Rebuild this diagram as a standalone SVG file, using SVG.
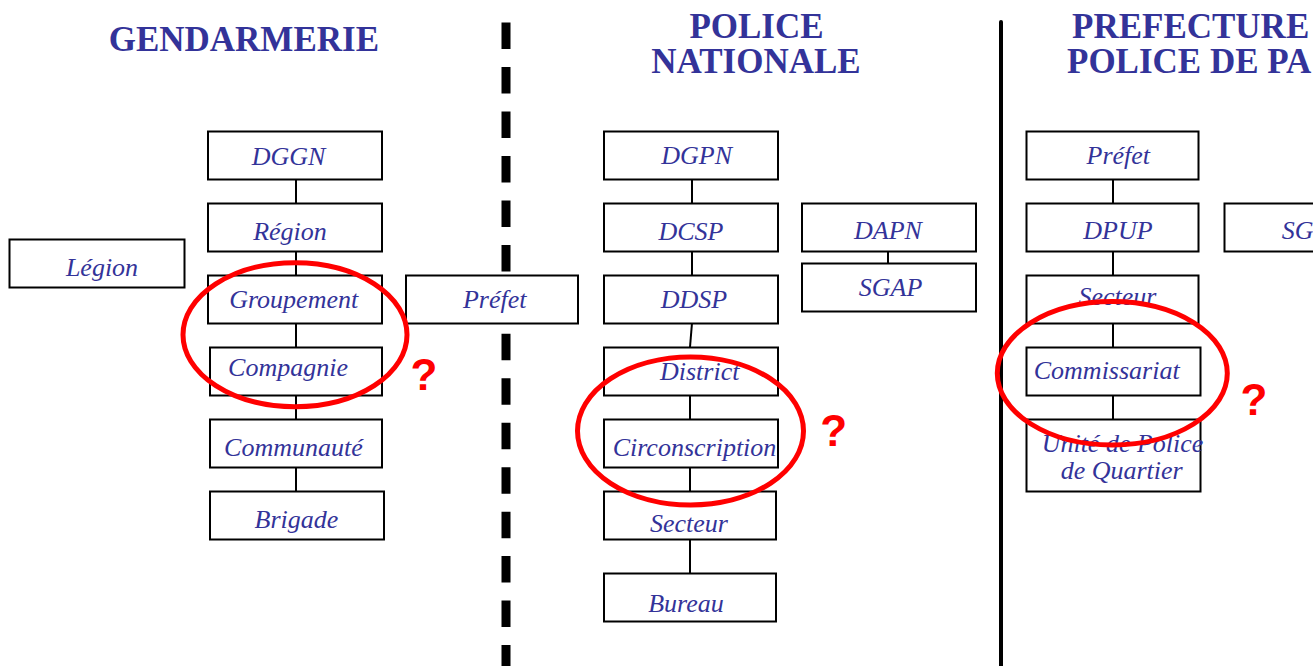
<svg xmlns="http://www.w3.org/2000/svg" width="1313" height="666" viewBox="0 0 1313 666">
<style>
.box{fill:#fff;stroke:#000;stroke-width:2}
.lbl{font-family:"Liberation Serif","Times New Roman",serif;font-style:italic;font-size:26px;fill:#333399;text-anchor:middle}
.title{font-family:"Liberation Serif","Times New Roman",serif;font-weight:bold;font-size:35px;fill:#333399}
.conn{stroke:#000;stroke-width:2;fill:none}
.ring{fill:none;stroke:#ff0000;stroke-width:5}
.q{font-family:"Liberation Sans",Arial,sans-serif;font-weight:bold;font-size:44px;fill:#ff0000;text-anchor:middle}
</style>
<rect width="1313" height="666" fill="#fff"/>
<!-- separators -->
<g id="separators">
<line x1="506" y1="22.6" x2="506" y2="666" stroke="#000" stroke-width="9" stroke-dasharray="26.5 17.96"/>
<line x1="1001" y1="22" x2="1001" y2="666" stroke="#000" stroke-width="4" stroke-linecap="round"/>
</g>
<!-- titles -->
<g id="titles">
<text class="title" x="108.7" y="50.7">GENDARMERIE</text>
<text class="title" x="756.5" y="37.7" text-anchor="middle">POLICE</text>
<text class="title" x="756" y="73.3" text-anchor="middle">NATIONALE</text>
<text class="title" x="1072" y="37.7">PREFECTURE</text>
<text class="title" x="1067" y="73.3">POLICE DE PA</text>
</g>
<!-- connectors -->
<g id="connectors">
<line class="conn" x1="296" y1="179" x2="296" y2="203"/>
<line class="conn" x1="296" y1="251" x2="296" y2="275"/>
<line class="conn" x1="296" y1="323" x2="296" y2="347"/>
<line class="conn" x1="296" y1="395" x2="296" y2="419"/>
<line class="conn" x1="296" y1="467" x2="296" y2="491"/>
<line class="conn" x1="692" y1="179" x2="692" y2="203"/>
<line class="conn" x1="692" y1="251" x2="692" y2="275"/>
<line class="conn" x1="692" y1="323" x2="690" y2="347"/>
<line class="conn" x1="690" y1="395" x2="690" y2="419"/>
<line class="conn" x1="690" y1="467" x2="690" y2="491"/>
<line class="conn" x1="690" y1="539" x2="690" y2="573"/>
<line class="conn" x1="888" y1="251" x2="888" y2="263"/>
<line class="conn" x1="1113" y1="179" x2="1113" y2="203"/>
<line class="conn" x1="1113" y1="251" x2="1113" y2="275"/>
<line class="conn" x1="1113" y1="323" x2="1113" y2="347"/>
<line class="conn" x1="1113" y1="395" x2="1113" y2="419"/>
</g>
<!-- Gendarmerie -->
<g id="dggn"><rect class="box" x="208" y="131.5" width="174" height="48"/><text class="lbl" x="288.6" y="165">DGGN</text></g>
<g id="region"><rect class="box" x="208" y="203.5" width="174" height="48"/><text class="lbl" x="290" y="240">Région</text></g>
<g id="legion"><rect class="box" x="9.5" y="239.5" width="175" height="48"/><text class="lbl" x="102" y="276">Légion</text></g>
<g id="groupement"><rect class="box" x="208" y="275.5" width="174" height="48"/><text class="lbl" x="293.7" y="308">Groupement</text></g>
<g id="prefet-g"><rect class="box" x="406" y="275.5" width="172" height="48"/><text class="lbl" x="494.7" y="308">Préfet</text></g>
<g id="compagnie"><rect class="box" x="210" y="347.5" width="172" height="48"/><text class="lbl" x="288" y="376">Compagnie</text></g>
<g id="communaute"><rect class="box" x="210" y="419.5" width="172" height="48"/><text class="lbl" x="293.4" y="455.7">Communauté</text></g>
<g id="brigade"><rect class="box" x="210" y="491.5" width="174" height="48"/><text class="lbl" x="296.5" y="528.3">Brigade</text></g>
<!-- Police nationale -->
<g id="dgpn"><rect class="box" x="604" y="131.5" width="174" height="48"/><text class="lbl" x="696.7" y="163.7">DGPN</text></g>
<g id="dcsp"><rect class="box" x="604" y="203.5" width="174" height="48"/><text class="lbl" x="691" y="240">DCSP</text></g>
<g id="ddsp"><rect class="box" x="604" y="275.5" width="174" height="48"/><text class="lbl" x="694" y="307.7">DDSP</text></g>
<g id="district"><rect class="box" x="604" y="347.5" width="174" height="48"/><text class="lbl" x="699.7" y="380">District</text></g>
<g id="circonscription"><rect class="box" x="604" y="419.5" width="174" height="48"/><text class="lbl" x="694.5" y="456">Circonscription</text></g>
<g id="secteur-pn"><rect class="box" x="604" y="491.5" width="172" height="48"/><text class="lbl" x="689" y="531.7">Secteur</text></g>
<g id="bureau"><rect class="box" x="604" y="573.5" width="172" height="48"/><text class="lbl" x="686" y="611.7">Bureau</text></g>
<g id="dapn"><rect class="box" x="802" y="203.5" width="174" height="48"/><text class="lbl" x="888" y="239.3">DAPN</text></g>
<g id="sgap"><rect class="box" x="802" y="263.5" width="174" height="48"/><text class="lbl" x="890.5" y="295.7">SGAP</text></g>
<!-- Prefecture de police -->
<g id="prefet-p"><rect class="box" x="1026.5" y="131.5" width="172" height="48"/><text class="lbl" x="1118.3" y="164">Préfet</text></g>
<g id="dpup"><rect class="box" x="1026.5" y="203.5" width="172" height="48"/><text class="lbl" x="1118" y="239.3">DPUP</text></g>
<g id="sg"><rect class="box" x="1224.5" y="203.5" width="174" height="48"/><text class="lbl" x="1281.7" y="239.3" style="text-anchor:start">SG</text></g>
<g id="secteur-pp"><rect class="box" x="1026.5" y="275.5" width="172" height="48"/><text class="lbl" x="1117.5" y="305">Secteur</text></g>
<g id="commissariat"><rect class="box" x="1026.5" y="347.5" width="174" height="48"/><text class="lbl" x="1106.7" y="379.3">Commissariat</text></g>
<g id="upq"><rect class="box" x="1026.5" y="419.5" width="174" height="72"/><text class="lbl" x="1122.5" y="451.7">Unité de Police</text><text class="lbl" x="1121.7" y="479.3">de Quartier</text></g>
<!-- red annotations -->
<g id="annotations">
<ellipse class="ring" cx="295" cy="334.7" rx="112" ry="72"/>
<ellipse class="ring" cx="690.5" cy="431" rx="113" ry="74"/>
<ellipse class="ring" cx="1112.3" cy="373.3" rx="115" ry="71.7"/>
<text class="q" x="424" y="390">?</text>
<text class="q" x="833.7" y="446">?</text>
<text class="q" x="1254" y="415">?</text>
</g>
</svg>
